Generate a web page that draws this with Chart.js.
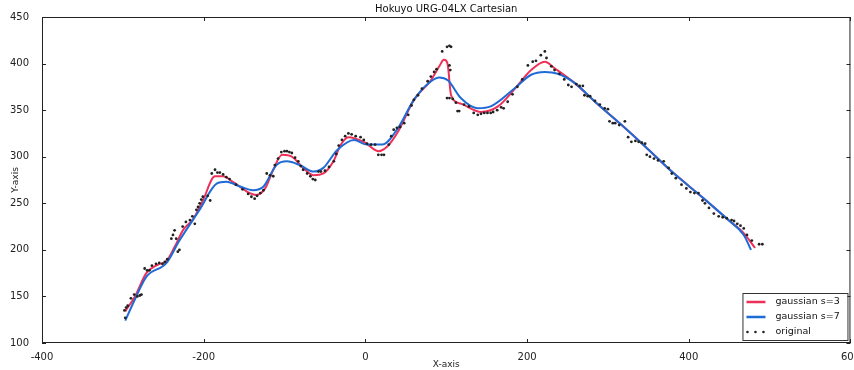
<!DOCTYPE html>
<html>
<head>
<meta charset="utf-8">
<script src="https://cdn.jsdelivr.net/npm/chart.js@4.4.1/dist/chart.umd.min.js"></script>
<style>
  html, body { margin: 0; padding: 0; background: #fff; overflow: hidden; }
  #wrap { width: 860px; height: 370px; }
</style>
</head>
<body>
<div id="wrap"><canvas id="myChart"></canvas></div>
<script>
const xTicks = [-400, -200, 0, 200, 400, 600];
const yTicks = [100, 150, 200, 250, 300, 350, 400, 450];

// gaussian s=3
const redX = [-297, -285, -271, -257, -246, -236, -225, -213, -201, -186, -176, -164, -143, -135, -124, -114, -103, -91, -77, -64, -52, -39, -31, -21, -2, 16, 27, 41, 60, 81, 92, 97, 100, 102, 106, 118, 143, 164, 184, 205, 222, 234, 259, 284, 317, 346, 379, 416, 449, 468, 482];
const redY = [134, 150, 175, 184, 188, 203, 222, 233, 253, 279, 279, 273, 261, 259, 266, 286, 302, 300, 288, 280, 282, 296, 312, 321, 316, 306, 311, 328, 361, 382, 398, 404, 403, 398, 366, 357, 348, 354, 372, 393, 402, 395, 379, 359, 334, 311, 284, 257, 232, 218, 202];

// gaussian s=7
const blueX = [-297, -285, -271, -246, -230, -205, -184, -172, -155, -139, -126, -110, -97, -81, -64, -52, -35, -14, 2, 21, 39, 60, 77, 91, 102, 118, 139, 155, 184, 205, 222, 238, 259, 284, 317, 346, 379, 416, 449, 468, 477];
const blueY = [124, 147, 171, 186, 210, 243, 271, 273, 268, 264, 268, 291, 295, 291, 284, 288, 307, 318, 313, 313, 329, 361, 378, 385, 382, 363, 352, 354, 373, 388, 391, 389, 379, 359, 334, 311, 284, 257, 232, 216, 200];

// original
const origX = [-298, -297, -296, -294, -290, -286, -282, -279, -277, -273, -270, -267, -264, -259, -255, -251, -248, -245, -240, -238, -236, -234, -232, -230, -226, -222, -217, -214, -211, -209, -207, -205, -203, -201, -195, -192, -190, -186, -183, -180, -176, -172, -168, -160, -152, -145, -141, -137, -134, -130, -126, -122, -118, -114, -112, -108, -104, -100, -97, -94, -91, -87, -83, -80, -77, -72, -68, -65, -62, -58, -55, -50, -45, -39, -36, -33, -29, -25, -21, -17, -12, -6, -2, 2, 7, 12, 16, 20, 23, 29, 32, 35, 39, 43, 48, 53, 57, 60, 65, 70, 77, 81, 85, 88, 95, 101, 104, 106, 104, 105, 101, 104, 108, 112, 114, 116, 122, 128, 134, 139, 143, 147, 151, 155, 158, 163, 168, 171, 176, 182, 188, 194, 201, 207, 211, 217, 222, 224, 230, 234, 240, 246, 251, 255, 261, 265, 269, 271, 275, 278, 284, 290, 296, 300, 302, 306, 309, 314, 321, 325, 329, 334, 338, 342, 346, 348, 352, 357, 362, 369, 375, 379, 384, 391, 397, 402, 407, 412, 417, 420, 425, 431, 437, 442, 447, 453, 456, 460, 464, 468, 472, 478, 487, 491];
const origY = [135, 127, 138, 140, 148, 152, 150, 151, 152, 180, 178, 178, 183, 185, 186, 185, 187, 190, 212, 216, 221, 212, 198, 200, 225, 230, 232, 236, 228, 243, 246, 250, 254, 257, 258, 253, 282, 286, 283, 283, 281, 278, 276, 270, 265, 260, 257, 255, 258, 261, 264, 282, 280, 279, 291, 298, 305, 306, 306, 305, 304, 299, 295, 290, 286, 282, 279, 276, 275, 284, 284, 285, 289, 295, 303, 312, 318, 322, 325, 324, 322, 321, 318, 314, 313, 313, 302, 302, 302, 313, 322, 329, 331, 332, 336, 345, 355, 361, 366, 373, 381, 386, 391, 394, 413, 418, 419, 418, 398, 393, 363, 363, 362, 358, 349, 349, 356, 354, 347, 345, 346, 347, 347, 347, 348, 350, 353, 352, 359, 367, 375, 383, 398, 402, 403, 409, 413, 406, 397, 393, 389, 383, 377, 375, 378, 376, 376, 366, 365, 365, 360, 356, 352, 351, 338, 336, 336, 334, 338, 321, 316, 317, 316, 315, 314, 302, 300, 298, 296, 295, 288, 282, 277, 270, 266, 262, 261, 261, 253, 250, 245, 239, 236, 235, 234, 232, 231, 228, 226, 223, 216, 210, 206, 206];

const toPoints = (xs, ys) => xs.map((x, i) => ({ x: x, y: ys[i] }));

const redColor = "#ee3058";
const blueColor = "#1f6bd6";
const font = "DejaVu Sans";

// box, inward ticks, title and legend, matplotlib style
const frameStuff = {
  id: "frameStuff",
  afterDraw(chart) {
    const {
      ctx,
      chartArea: { left, right, top, bottom },
      scales: { x, y },
    } = chart;
    ctx.save();
    ctx.strokeStyle = "#222";
    ctx.lineWidth = 1;
    ctx.strokeRect(left + 0.5, top + 0.5, right - left - 1, bottom - top - 1);

    ctx.beginPath();
    xTicks.forEach((v) => {
      const px = Math.round(x.getPixelForValue(v)) + 0.5;
      ctx.moveTo(px, bottom);
      ctx.lineTo(px, bottom - 4);
      ctx.moveTo(px, top);
      ctx.lineTo(px, top + 4);
    });
    yTicks.forEach((v) => {
      const py = Math.round(y.getPixelForValue(v)) + 0.5;
      ctx.moveTo(left, py);
      ctx.lineTo(left + 4, py);
      ctx.moveTo(right, py);
      ctx.lineTo(right - 4, py);
    });
    ctx.stroke();

    // title
    ctx.fillStyle = "#111";
    ctx.font = "10px " + font;
    ctx.textAlign = "center";
    ctx.textBaseline = "middle";
    ctx.fillText("Hokuyo URG-04LX Cartesian", (left + right) / 2, 9);

    // legend
    const bx = right - 108;
    const by = bottom - 50;
    ctx.fillStyle = "#fff";
    ctx.fillRect(bx, by, 105, 47);
    ctx.strokeStyle = "#333";
    ctx.strokeRect(bx + 0.5, by + 0.5, 105, 47);

    const rows = [
      { label: "gaussian s=3", color: redColor, dots: false },
      { label: "gaussian s=7", color: blueColor, dots: false },
      { label: "original", color: "#222", dots: true },
    ];
    rows.forEach((r, i) => {
      const ry = by + 9 + i * 15;
      if (r.dots) {
        ctx.fillStyle = r.color;
        [5, 13, 21].forEach((dx) => {
          ctx.beginPath();
          ctx.arc(bx + dx, ry, 1.3, 0, Math.PI * 2);
          ctx.fill();
        });
      } else {
        ctx.strokeStyle = r.color;
        ctx.lineWidth = 2.5;
        ctx.beginPath();
        ctx.moveTo(bx + 4, ry);
        ctx.lineTo(bx + 23, ry);
        ctx.stroke();
      }
      ctx.fillStyle = "#111";
      ctx.font = "9.5px " + font;
      ctx.textAlign = "left";
      ctx.fillText(r.label, bx + 33, ry);
    });
    ctx.restore();
  },
};

const config = {
  type: "scatter",
  data: {
    datasets: [
      {
        label: "gaussian s=3",
        data: toPoints(redX, redY),
        showLine: true,
        borderColor: redColor,
        backgroundColor: redColor,
        borderWidth: 2,
        pointRadius: 0,
        cubicInterpolationMode: "monotone",
        order: 2,
      },
      {
        label: "gaussian s=7",
        data: toPoints(blueX, blueY),
        showLine: true,
        borderColor: blueColor,
        backgroundColor: blueColor,
        borderWidth: 2,
        pointRadius: 0,
        cubicInterpolationMode: "monotone",
        order: 1,
      },
      {
        label: "original",
        data: toPoints(origX, origY),
        showLine: false,
        backgroundColor: "#222",
        borderColor: "#222",
        borderWidth: 0,
        pointRadius: 1.4,
        order: 0,
      },
    ],
  },
  options: {
    responsive: true,
    maintainAspectRatio: false,
    animation: false,
    layout: {
      padding: { top: 17, left: 0, right: 0, bottom: 0 },
    },
    plugins: {
      legend: { display: false },
      title: { display: false },
      tooltip: { enabled: false },
    },
    scales: {
      x: {
        type: "linear",
        min: -400,
        max: 600,
        afterBuildTicks: (scale) => {
          scale.ticks = xTicks.map((v) => ({ value: v }));
        },
        afterFit: (scale) => {
          scale.height = 27;
        },
        grid: { display: false },
        border: { display: false },
        ticks: {
          color: "#222",
          font: { family: font, size: 10 },
          padding: 0,
          maxRotation: 0,
        },
        title: {
          display: true,
          text: "X-axis",
          color: "#222",
          font: { family: font, size: 9 },
          padding: { top: 1, bottom: 0 },
        },
      },
      y: {
        type: "linear",
        min: 100,
        max: 450,
        afterBuildTicks: (scale) => {
          scale.ticks = yTicks.map((v) => ({ value: v }));
        },
        afterFit: (scale) => {
          scale.width = 42;
        },
        grid: { display: false },
        border: { display: false },
        ticks: {
          color: "#222",
          font: { family: font, size: 10 },
          padding: 5,
        },
        title: {
          display: true,
          text: "Y-axis",
          color: "#222",
          font: { family: font, size: 9 },
          padding: { top: 10, bottom: 0 },
        },
      },
    },
  },
  plugins: [frameStuff],
};

const myChart = new Chart(document.getElementById("myChart"), config);
</script>
</body>
</html>
